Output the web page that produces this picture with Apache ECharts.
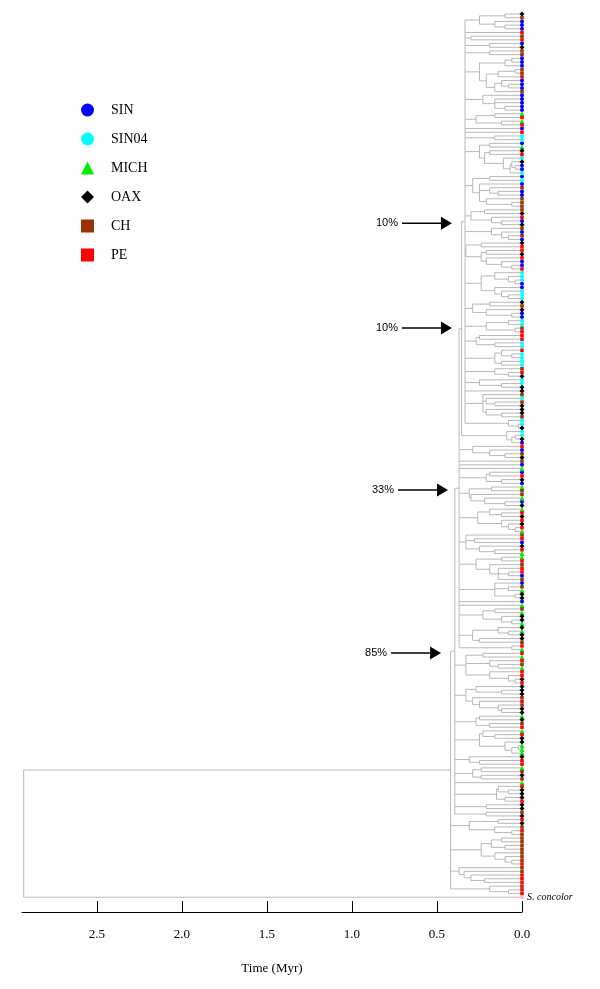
<!DOCTYPE html>
<html>
<head>
<meta charset="utf-8">
<script src="https://cdn.jsdelivr.net/npm/echarts@6/dist/echarts.min.js"></script>
<style>html,body{margin:0;padding:0;background:#fff}#chart{width:600px;height:989px}</style>
</head>
<body>
<div id="chart"></div>
<script>
// Population of each tip, top to bottom (B=SIN, C=SIN04, G=MICH, K=OAX, H=CH, R=PE, O=outgroup)
const tipsBlock1 = ['K','H','B','B','B','R','H','R','B','K','H','H','B','B','B','H','H','R','B','B','B','H','B','B','B','B','B','G','R','G','R','B','R','C','C','B','G','K','R','C','K','B','B','C','B','C','B','H','B','B','H'];
const tipsBlock2 = ['H','H','H','K','R','B','K','H','B','H','B','K','R','R','K','R','B','B','R','C','C','C','B','B','C','C','C','K','H','K','B','B','C','C','H','R','R','R','C','C','R','C','C','C','C','H','R','K','C','C','K','K','H','C'];
const tipsBlock3 = ['H','K','K','K','H','C','C','K','C','C','K','B','R','B','H','K','H','B','G','B','R','K','B','G','H','H','G','B','K','G','R','K','R','K','R','G','H','R','B','K','R','G','G','R','H','R','R','B','H','B','H','G','K','K'];
const tipsBlock4 = ['B','G','H','G','K','K','G','K','G','K','K','H','R','G','R','G','R','H','G','R','R','K','R','K','K','K','H','R','H','K','K','G','K','H','R','G','R','K','K','G','G','G','K','R','R','G','H','K','H','G','R','K','K','K'];
const tipsBlock5 = ['R','K','K','H','K','R','K','H','R','H','H','H','H','H','H','H','H','R','H','H','R','R','R','H','R','R','O'];

// Divergence age (Myr) between each tip and the next one below it
const splitAgesA = [0.10,0.25,0.16,0.10,0.335,0.335,0.30,0.335,0.19,0.335,0.19,0.335,0.06,0.10,0.25,0.04,0.14,0.21,0.12,0.08,0.16,0.335,0.23,0.16,0.16,0.10,0.335,0.16,0.27,0.12,0.335,0.335,0.335,0.16,0.335,0.19,0.25,0.19,0.22,0.11,0.06,0.04,0.07,0.335,0.19,0.29,0.25,0.19,0.14,0.25,0.21,0.06,0.335];
const splitAgesB = [0.22,0.30,0.18,0.12,0.335,0.18,0.12,0.08,0.335,0.24,0.33,0.21,0.24,0.21,0.12,0.06,0.335,0.16,0.08,0.04,0.24,0.16,0.12,0.08,0.335,0.19,0.29,0.21,0.06,0.335,0.08,0.21,0.04,0.335,0.25,0.27,0.16,0.335,0.12,0.06,0.16,0.12,0.335,0.16,0.08,0.335,0.25,0.12,0.335,0.335,0.23,0.21,0.16,0.23,0.21,0.12,0.335,0.08,0.02,0.355];
const splitAgesC = [0.09,0.04,0.06,0.37,0.29,0.19,0.10,0.37,0.37,0.37,0.37,0.19,0.21,0.12,0.37,0.18,0.31,0.30,0.22,0.10,0.37,0.19,0.12,0.26,0.12,0.08,0.04,0.37,0.33,0.28,0.33,0.25,0.16,0.37,0.12,0.27,0.19,0.14,0.08,0.14,0.37,0.16,0.08,0.16,0.04,0.37,0.37,0.37,0.16,0.23,0.12,0.06,0.37,0.14,0.08,0.29,0.25,0.37,0.06,0.395];
const splitAgesD = [0.23,0.33,0.19,0.14,0.33,0.19,0.08,0.04,0.395,0.27,0.12,0.33,0.29,0.25,0.14,0.12,0.395,0.25,0.27,0.19,0.395,0.23,0.16,0.25,0.10,0.02,0.06,0.395,0.31,0.25,0.395,0.24,0.29,0.24,0.395,0.395,0.14,0.08,0.15,0.10,0.395,0.21,0.395,0.21,0.42];
const splitAgesE = [0.14,0.31,0.16,0.06,0.42,0.12,0.18,0.10,0.24,0.16,0.10,0.06,0.42,0.37,0.34,0.30,0.22,0.42,0.19,0.08,2.93];

// Axis ticks
const tickValues = [0, 0.5, 1.0, 1.5, 2.0, 2.5];

// Legend populations
const popCodes = ['B','C','G','K','H','R'];
const popNames = ['SIN','SIN04','MICH','OAX','CH','PE'];
const popColors = ['#0000ff','#00ffff','#00ee00','#000000','#993300','#ff0000'];
const popSymbols = ['circle','circle','triangle','diamond','rect','rect'];

// Support annotations (arrow tip position: age, tip row)
const supportLabels = ['10%','10%','33%','85%'];
const supportAges = [0.412, 0.412, 0.435, 0.476];
const supportRows = [56.6, 85.0, 128.8, 172.9];

const outgroupName = 'S. concolor';

const tips = [].concat(tipsBlock1, tipsBlock2, tipsBlock3, tipsBlock4, tipsBlock5);
const splitAges = [].concat(splitAgesA, splitAgesB, splitAgesC, splitAgesD, splitAgesE);

// Build tree from adjacent divergence ages
const segments = [];
function build(a, b) {
  if (a === b) return { y: a, age: 0 };
  let m = -Infinity;
  for (let i = a; i < b; i++) if (splitAges[i] > m) m = splitAges[i];
  const children = [];
  let start = a;
  for (let i = a; i < b; i++) {
    if (splitAges[i] === m) { children.push(build(start, i)); start = i + 1; }
  }
  children.push(build(start, b));
  const y0 = children[0].y, y1 = children[children.length - 1].y;
  segments.push([m, y0, m, y1]);
  children.forEach(c => segments.push([m, c.y, c.age, c.y]));
  return { y: (y0 + y1) / 2, age: m };
}
build(0, tips.length - 1);

const chart = echarts.init(document.getElementById('chart'), null, { renderer: 'canvas' });

const series = [];
series.push({
  type: 'custom',
  name: 'tree',
  data: segments,
  encode: { x: [0, 2], y: [1, 3] },
  silent: true,
  z: 1,
  renderItem: function (params, api) {
    const p1 = api.coord([api.value(0), api.value(1)]);
    const p2 = api.coord([api.value(2), api.value(3)]);
    return {
      type: 'line',
      shape: { x1: p1[0], y1: p1[1], x2: p2[0], y2: p2[1] },
      style: { stroke: '#b8b8b8', lineWidth: 1 }
    };
  }
});

popCodes.forEach((code, k) => {
  const data = [];
  tips.forEach((p, i) => { if (p === code) data.push([0, i]); });
  series.push({
    type: 'scatter',
    name: popNames[k],
    data: data,
    symbol: popSymbols[k],
    symbolSize: popSymbols[k] === 'rect' ? 3.5 : (popSymbols[k] === 'circle' ? 4 : 5),
    itemStyle: { color: popColors[k], opacity: 1 },
    z: 3
  });
});

const outData = [];
tips.forEach((p, i) => { if (p === 'O') outData.push([0, i]); });
series.push({
  type: 'scatter',
  name: outgroupName,
  data: outData,
  symbol: 'circle',
  symbolSize: 4,
  itemStyle: { color: '#ffc0c0', opacity: 1 },
  label: {
    show: true, position: 'right', distance: 3,
    formatter: outgroupName,
    fontFamily: 'Liberation Serif', fontStyle: 'italic', fontSize: 10, color: '#000'
  },
  z: 3
});

series.push({
  type: 'custom',
  name: 'support',
  data: supportAges.map((a, i) => [a, supportRows[i], i]),
  encode: { x: 0, y: 1 },
  silent: true,
  z: 5,
  renderItem: function (params, api) {
    const p = api.coord([api.value(0), api.value(1)]);
    const idx = api.value(2);
    const x = p[0], y = p[1];
    return {
      type: 'group',
      children: [
        { type: 'line', shape: { x1: x - 50, y1: y, x2: x - 10, y2: y }, style: { stroke: '#000', lineWidth: 1.5 } },
        { type: 'polygon', shape: { points: [[x, y], [x - 11, y - 6.5], [x - 11, y + 6.5]] }, style: { fill: '#000' } },
        { type: 'text', style: { text: supportLabels[idx], x: x - 54, y: y, align: 'right', verticalAlign: 'middle', fontFamily: 'Liberation Sans', fontSize: 11, fill: '#000' } }
      ]
    };
  }
});

chart.setOption({
  animation: false,
  backgroundColor: '#fff',
  grid: { left: 22, right: 78, top: 14, bottom: 77 },
  legend: {
    orient: 'vertical',
    left: 76,
    top: 98,
    itemWidth: 13,
    itemHeight: 13,
    itemGap: 15,
    selectedMode: false,
    data: popNames.map((n, k) => ({ name: n, icon: popSymbols[k] })),
    textStyle: { fontFamily: 'Liberation Serif', fontSize: 14, color: '#000', padding: [0, 0, 0, 12] }
  },
  xAxis: {
    type: 'value',
    inverse: true,
    min: 0,
    max: 2.94,
    interval: 0.5,
    axisLine: { show: true, onZero: false, lineStyle: { color: '#000', width: 1 } },
    axisTick: { show: true, inside: true, length: 11, customValues: tickValues, lineStyle: { color: '#000', width: 1 } },
    axisLabel: { customValues: tickValues, formatter: v => Number(v).toFixed(1), fontFamily: 'Liberation Serif', fontSize: 13, color: '#000', margin: 16 },
    splitLine: { show: false },
    name: 'Time (Myr)',
    nameLocation: 'middle',
    nameGap: 50,
    nameTextStyle: { fontFamily: 'Liberation Serif', fontSize: 13, color: '#000' }
  },
  yAxis: { type: 'value', inverse: true, min: 0, max: 243, show: false },
  series: series
});
</script>
</body>
</html>
